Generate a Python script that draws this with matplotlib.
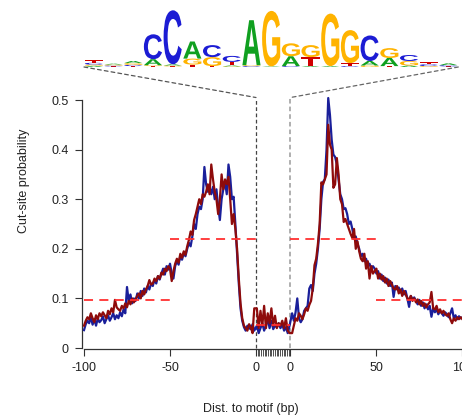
import numpy as np
import matplotlib
matplotlib.use("Agg")
import matplotlib.pyplot as plt
from matplotlib.textpath import TextPath
from matplotlib.patches import PathPatch, ConnectionPatch
from matplotlib.font_manager import FontProperties
from matplotlib.transforms import Affine2D

plt.rcParams['font.family'] = ['Liberation Sans', 'DejaVu Sans']

# ---- motif logo: letter stacks per position (bottom -> top), heights in bits ----
logo_stacks = [
    [('A', 0.04), ('G', 0.04), ('C', 0.06), ('T', 0.08)],
    [('T', 0.02), ('C', 0.03), ('G', 0.03), ('A', 0.03)],
    [('T', 0.03), ('C', 0.04), ('G', 0.06), ('A', 0.07)],
    [('T', 0.03), ('G', 0.03), ('A', 0.20), ('C', 0.83)],
    [('T', 0.02), ('G', 0.03), ('A', 0.04), ('C', 1.80)],
    [('T', 0.08), ('G', 0.20), ('A', 0.57)],
    [('T', 0.03), ('G', 0.30), ('C', 0.40)],
    [('G', 0.02), ('A', 0.03), ('T', 0.12), ('C', 0.20)],
    [('C', 0.03), ('G', 0.03), ('A', 1.50)],
    [('A', 0.02), ('G', 1.85)],
    [('C', 0.03), ('A', 0.33), ('G', 0.43)],
    [('A', 0.03), ('T', 0.30), ('G', 0.40)],
    [('A', 0.03), ('G', 1.75)],
    [('C', 0.03), ('T', 0.10), ('G', 1.10)],
    [('G', 0.05), ('A', 0.15), ('C', 0.85)],
    [('T', 0.03), ('A', 0.27), ('G', 0.33)],
    [('A', 0.05), ('G', 0.15), ('C', 0.20)],
    [('G', 0.03), ('C', 0.06), ('T', 0.06)],
    [('T', 0.02), ('C', 0.04), ('A', 0.06)],
]
letter_colors = {'A': '#10a020', 'C': '#1c1cd4', 'G': '#ffb300', 'T': '#d00000'}

# ---- cut-site probability profiles ----
left_pos = np.arange(-100, 0)       # upstream flank (bp)
right_pos = np.arange(1, 101)       # downstream flank (bp)
motif_len = 19

left_blue = [
    0.036, 0.048, 0.055, 0.050, 0.062, 0.047, 0.058, 0.045, 0.060, 0.052,
    0.056, 0.064, 0.050, 0.058, 0.066, 0.055, 0.062, 0.070, 0.058, 0.066,
    0.060, 0.072, 0.064, 0.078, 0.070, 0.123, 0.095, 0.108, 0.090, 0.100,
    0.095, 0.110, 0.100, 0.115, 0.105, 0.120, 0.112, 0.125, 0.118, 0.130,
    0.125, 0.138, 0.130, 0.145, 0.138, 0.150, 0.160, 0.148, 0.165, 0.158,
    0.170, 0.150, 0.140, 0.165, 0.175, 0.168, 0.185, 0.178, 0.192, 0.185,
    0.200, 0.212, 0.205, 0.225, 0.250, 0.240, 0.270, 0.285, 0.280, 0.300,
    0.365, 0.330, 0.315, 0.325, 0.310, 0.325, 0.300, 0.320, 0.285, 0.258,
    0.300, 0.320, 0.335, 0.310, 0.370, 0.345, 0.300, 0.305, 0.250, 0.190,
    0.130, 0.080, 0.055, 0.042, 0.035, 0.045, 0.040, 0.038, 0.048, 0.035,
]
left_red = [
    0.045, 0.055, 0.062, 0.058, 0.070, 0.060, 0.052, 0.066, 0.058, 0.070,
    0.064, 0.072, 0.066, 0.060, 0.075, 0.068, 0.080, 0.072, 0.097, 0.082,
    0.078, 0.075, 0.085, 0.080, 0.090, 0.082, 0.095, 0.088, 0.100, 0.092,
    0.098, 0.105, 0.110, 0.100, 0.115, 0.108, 0.118, 0.125, 0.137, 0.128,
    0.130, 0.140, 0.135, 0.145, 0.140, 0.152, 0.148, 0.160, 0.155, 0.165,
    0.160, 0.135, 0.155, 0.170, 0.180, 0.172, 0.190, 0.182, 0.195, 0.188,
    0.205, 0.218, 0.235, 0.228, 0.258, 0.270, 0.285, 0.300, 0.290, 0.310,
    0.305, 0.315, 0.330, 0.310, 0.370, 0.340, 0.315, 0.300, 0.270, 0.300,
    0.350, 0.320, 0.340, 0.330, 0.345, 0.300, 0.250, 0.270, 0.240, 0.200,
    0.140, 0.090, 0.060, 0.045, 0.040, 0.035, 0.048, 0.042, 0.030, 0.080,
]
motif_blue = [0.045, 0.030, 0.040, 0.050, 0.035, 0.045, 0.060, 0.040, 0.055, 0.038,
              0.045, 0.042, 0.050, 0.040, 0.048, 0.035, 0.042, 0.030, 0.045]
motif_red = [0.080, 0.040, 0.075, 0.045, 0.085, 0.040, 0.070, 0.050, 0.080, 0.045,
             0.065, 0.040, 0.050, 0.045, 0.055, 0.040, 0.060, 0.035, 0.030]
right_blue = [
    0.070, 0.055, 0.072, 0.100, 0.060, 0.052, 0.058, 0.075, 0.080, 0.085,
    0.120, 0.127, 0.115, 0.150, 0.170, 0.200, 0.240, 0.300, 0.335, 0.340,
    0.400, 0.504, 0.470, 0.420, 0.390, 0.385, 0.370, 0.340, 0.310, 0.300,
    0.280, 0.282, 0.270, 0.250, 0.255, 0.240, 0.220, 0.225, 0.210, 0.200,
    0.185, 0.190, 0.175, 0.180, 0.165, 0.170, 0.160, 0.165, 0.160, 0.150,
    0.155, 0.140, 0.148, 0.135, 0.142, 0.130, 0.138, 0.125, 0.132, 0.103,
    0.125, 0.118, 0.122, 0.112, 0.120, 0.108, 0.115, 0.100, 0.083, 0.105,
    0.098, 0.102, 0.095, 0.088, 0.097, 0.085, 0.092, 0.080, 0.088, 0.078,
    0.085, 0.063, 0.080, 0.072, 0.078, 0.068, 0.075, 0.070, 0.065, 0.072,
    0.068, 0.062, 0.070, 0.080, 0.060, 0.066, 0.058, 0.064, 0.060, 0.062,
]
right_red = [
    0.030, 0.045, 0.060, 0.055, 0.070, 0.065, 0.058, 0.068, 0.080, 0.075,
    0.087, 0.095, 0.120, 0.167, 0.180, 0.210, 0.250, 0.334, 0.330, 0.340,
    0.350, 0.450, 0.410, 0.400, 0.323, 0.330, 0.383, 0.350, 0.300, 0.290,
    0.254, 0.260, 0.250, 0.240, 0.230, 0.222, 0.240, 0.200, 0.215, 0.195,
    0.180, 0.175, 0.190, 0.160, 0.175, 0.140, 0.165, 0.150, 0.155, 0.160,
    0.140, 0.150, 0.138, 0.145, 0.132, 0.140, 0.125, 0.135, 0.128, 0.120,
    0.118, 0.125, 0.110, 0.118, 0.105, 0.115, 0.108, 0.100, 0.098, 0.105,
    0.095, 0.100, 0.092, 0.098, 0.088, 0.095, 0.085, 0.090, 0.082, 0.088,
    0.092, 0.113, 0.080, 0.078, 0.085, 0.072, 0.078, 0.070, 0.075, 0.068,
    0.065, 0.070, 0.058, 0.050, 0.060, 0.055, 0.062, 0.058, 0.062, 0.058,
]

# flank / motif mean levels (red dashed guides)
flank_outer = 0.097
flank_inner = 0.22
motif_mean = 0.046

x_ticks = [-100, -50, 0, 0, 50, 100]

# ---- figure ----
W, H = 462, 415
fig = plt.figure(figsize=(W / 100, H / 100), dpi=100)

gap = 20                      # axis width reserved for the motif
u_left, u_right = -101, 100 + gap
ppu = 1.72                    # pixels per bp
ax_left_px = 84 - 1 * ppu
ax_w_px = (u_right - u_left) * ppu
ylo, yhi = -0.002, 0.51
ppy = 496.0
ax_bottom_px = H - 349
ax_h_px = (yhi - ylo) * ppy
ax = fig.add_axes([ax_left_px / W, ax_bottom_px / H, ax_w_px / W, ax_h_px / H])
ax.set_xlim(u_left, u_right)
ax.set_ylim(ylo, yhi)

u_left_pts = left_pos
u_motif = np.linspace(0.5, gap - 0.5, motif_len)
u_right_pts = right_pos + gap

u_all = np.concatenate([u_left_pts, u_motif, u_right_pts])
blue_all = np.concatenate([left_blue, motif_blue, right_blue])
red_all = np.concatenate([left_red, motif_red, right_red])

ax.plot(u_all, blue_all, color='#1a1f9a', lw=1.6, solid_joinstyle='round', clip_on=False, zorder=3)
ax.plot(u_all, red_all, color='#8e0b0b', lw=1.6, solid_joinstyle='round', clip_on=False, zorder=4)

dash = dict(color='#ff3030', lw=1.3, dashes=(5, 3.5), zorder=5)
ax.plot([-100, -50], [flank_outer, flank_outer], **dash)
ax.plot([-50, 0], [flank_inner, flank_inner], **dash)
ax.plot([0, gap], [motif_mean, motif_mean], **dash)
ax.plot([gap, gap + 50], [flank_inner, flank_inner], **dash)
ax.plot([gap + 50, gap + 100], [flank_outer, flank_outer], **dash)

# motif boundaries
top_line = 0.505
ax.plot([0, 0], [0, top_line], color='#444444', lw=0.9, dashes=(3, 2), clip_on=False, zorder=2)
ax.plot([gap, gap], [0, top_line], color='#9a9a9a', lw=1.1, dashes=(3, 2), clip_on=False, zorder=2)

# axes styling
for s in ['top', 'right']:
    ax.spines[s].set_visible(False)
ax.spines['left'].set_bounds(0, 0.5)
ax.spines['bottom'].set_bounds(-100, 100 + gap)
for s in ['left', 'bottom']:
    ax.spines[s].set_color('#333333')
    ax.spines[s].set_linewidth(0.9)

ax.set_yticks([0, 0.1, 0.2, 0.3, 0.4, 0.5])
ax.set_yticklabels(['0', '0.1', '0.2', '0.3', '0.4', '0.5'])
tick_u = [-100, -50, 0, gap, gap + 50, gap + 100]
ax.set_xticks(tick_u)
ax.set_xticklabels([str(t) for t in x_ticks])
ax.set_xticks(np.arange(1, gap), minor=True)
ax.tick_params(axis='both', which='both', direction='out', length=5, width=0.8,
               color='#333333', labelsize=9, labelcolor='#222222')
ax.tick_params(axis='y', pad=5)
ax.tick_params(axis='x', which='major', pad=4)
ax.tick_params(axis='x', which='minor', width=0.6, length=5)

fig.text(251 / W, 1 - 409 / H, 'Dist. to motif (bp)', ha='center', va='center',
         fontsize=9, color='#222222')
fig.text(24 / W, 1 - 181 / H, 'Cut-site probability', ha='center', va='center',
         rotation=90, fontsize=9, color='#222222')

# ---- sequence logo ----
n_cols = len(logo_stacks)
col_w = 19.7
logo_left = 84
logo_base = 67
bit_px = 30
lax = fig.add_axes([logo_left / W, 1 - logo_base / H, n_cols * col_w / W, 2 * bit_px / H])
lax.set_xlim(0, n_cols)
lax.set_ylim(0, 2)
lax.axis('off')

fp = FontProperties(family='Liberation Sans', weight='bold')
for i, stack in enumerate(logo_stacks):
    y0 = 0.0
    for letter, h in stack:
        tp = TextPath((0, 0), letter, size=1, prop=fp)
        bb = tp.get_extents()
        w = 0.92
        tr = (Affine2D().translate(-bb.x0, -bb.y0)
              .scale(w / bb.width, h / bb.height)
              .translate(i + (1 - w) / 2, y0))
        lax.add_patch(PathPatch(tr.transform_path(tp), fc=letter_colors[letter], lw=0))
        y0 += h

# connectors from the logo to the motif window
for xa, xb, col in [(0, 0, '#555555'), (n_cols, gap, '#666666')]:
    cp = ConnectionPatch(xyA=(xa, 0), coordsA=lax.transData,
                         xyB=(xb, top_line), coordsB=ax.transData,
                         color=col, lw=0.9, linestyle=(0, (3, 2.5)))
    fig.add_artist(cp)

fig.savefig('out.png', dpi=100)
